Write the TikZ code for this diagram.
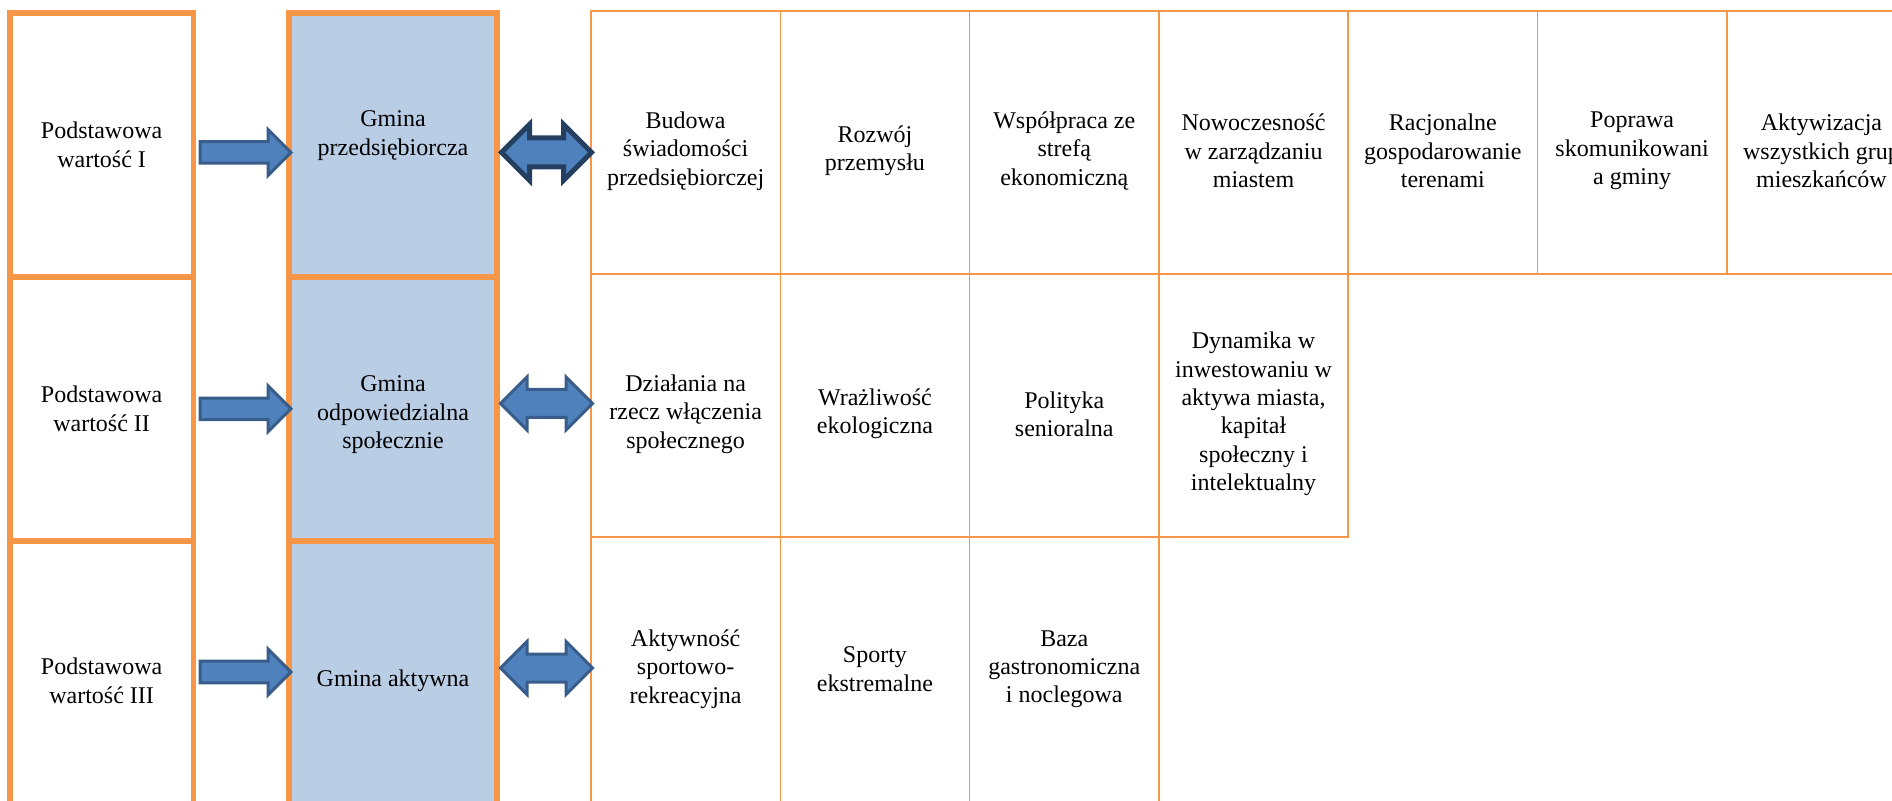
\documentclass[tikz,border=0pt]{standalone}
\usepackage{fontspec}
\setmainfont{Liberation Serif}
\usetikzlibrary{positioning,shapes.arrows}
\definecolor{accorange}{HTML}{F79646}
\definecolor{gminablue}{HTML}{B9CDE5}
\definecolor{arrowfill}{HTML}{4F81BD}
\definecolor{arrowline}{HTML}{385D8A}
\definecolor{arrowdark}{HTML}{243F60}

\begin{document}
\begin{tikzpicture}[
    every node/.style={font=\fontsize{12}{14.15}\selectfont, align=center, inner sep=0pt, outer sep=0pt},
    valbox/.style={draw=accorange, line width=2.85pt, minimum width=91.85pt, minimum height=132pt},
    lastval/.style={valbox, minimum height=140pt},
    gminabox/.style={valbox, fill=gminablue, minimum width=104pt},
    lastgmina/.style={gminabox, minimum height=140pt},
    cell/.style={draw=accorange, line width=0.8pt, minimum width=94.65pt, minimum height=131.5pt},
    lastcell/.style={cell, minimum height=136pt},
    celltext/.style={yshift=-4.4pt},
    lasttext/.style={yshift=1.8pt},
    onearrow/.style={single arrow, draw=arrowline, fill=arrowfill, line width=1.5pt,
      inner xsep=0pt, inner ysep=4.65pt, single arrow head extend=6.1pt,
      minimum height=45.5pt, minimum width=21.5pt, single arrow tip angle=90, anchor=tip},
    twoarrow/.style={double arrow, draw=arrowline, fill=arrowfill, line width=1.5pt,
      inner xsep=0pt, inner ysep=6.25pt, double arrow head extend=6.25pt,
      minimum height=46pt, minimum width=25pt, double arrow tip angle=90}
    ]
    \useasboundingbox (0,0) rectangle (946pt,-400pt);
    \clip (0,0) rectangle (946pt,-400pt);

    % basic values
    \node[valbox, anchor=north west] (v1) at (4.9pt,-6.4pt) {Podstawowa\\wartość I};
    \node[valbox, below=0pt of v1] (v2) {Podstawowa\\wartość II};
    \node[lastval, below=0pt of v2] (v3) {Podstawowa\\wartość III};

    % gmina
    \node[gminabox, right=47.75pt of v1,
      label={[name=g1text, yshift=4.6pt]center:Gmina\\przedsiębiorcza}] (g1) {};
    \node[gminabox, below=0pt of g1,
      label={[name=g2text, yshift=-3pt]center:Gmina\\odpowiedzialna\\społecznie}] (g2) {};
    \node[lastgmina, below=0pt of g2] (g3) {Gmina aktywna};

    % table
    \node[cell, anchor=north west, label={[celltext, name=b11]center:Budowa\\świadomości\\przedsiębiorczej}] (t11) at (295.5pt,-5.35pt) {};
    \node[cell, right=0pt of t11, label={[celltext, name=b12]center:Rozwój\\przemysłu}] (t12) {};
    \node[cell, right=0pt of t12, label={[celltext, name=b13]center:Współpraca ze\\strefą\\ekonomiczną}] (t13) {};
    \node[cell, right=0pt of t13, label={[celltext, name=b14]center:Nowoczesność\\w zarządzaniu\\miastem}] (t14) {};
    \node[cell, right=0pt of t14, label={[celltext, name=b15]center:Racjonalne\\gospodarowanie\\terenami}] (t15) {};
    \node[cell, right=0pt of t15, label={[celltext, name=b16]center:Poprawa\\skomunikowani\\a gminy}] (t16) {};
    \node[cell, right=0pt of t16, label={[celltext, name=b17]center:Aktywizacja\\wszystkich grup\\mieszkańców}] (t17) {};

    \node[cell, below=0pt of t11, label={[celltext, name=b21]center:Działania na\\rzecz włączenia\\społecznego}] (t21) {};
    \node[cell, right=0pt of t21, label={[celltext, name=b22]center:Wrażliwość\\ekologiczna}] (t22) {};
    \node[cell, right=0pt of t22, label={[celltext, name=b23]center:Polityka\\senioralna}] (t23) {};
    \node[cell, right=0pt of t23, label={[celltext, name=b24]center:Dynamika w\\inwestowaniu w\\aktywa miasta,\\kapitał\\społeczny i\\intelektualny}] (t24) {};

    \node[lastcell, below=0pt of t21, label={[lasttext, name=b31]center:Aktywność\\sportowo-\\rekreacyjna}] (t31) {};
    \node[lastcell, right=0pt of t31, label={[lasttext, name=b32]center:Sporty\\ekstremalne}] (t32) {};
    \node[lastcell, right=0pt of t32, label={[lasttext, name=b33]center:Baza\\gastronomiczna\\i noclegowa}] (t33) {};

    % arrows
    \node[onearrow] (a1) at ([xshift=1pt,yshift=-3.8pt]g1.west) {};
    \node[onearrow] (a2) at ([xshift=1pt]g2.west) {};
    \node[onearrow] (a3) at ([xshift=1pt,yshift=4.4pt]g3.west) {};
    \node[twoarrow, draw=arrowdark, line width=2.5pt, inner ysep=6pt,
      double arrow head extend=6.75pt, minimum height=45pt, minimum width=25.5pt]
      (d1) at ([xshift=24.75pt,yshift=-3.8pt]g1.east) {};
    \node[twoarrow] (d2) at ([xshift=24.75pt,yshift=2.7pt]g2.east) {};
    \node[twoarrow] (d3) at ([xshift=24.75pt,yshift=6.4pt]g3.east) {};
  \end{tikzpicture}
\end{document}
